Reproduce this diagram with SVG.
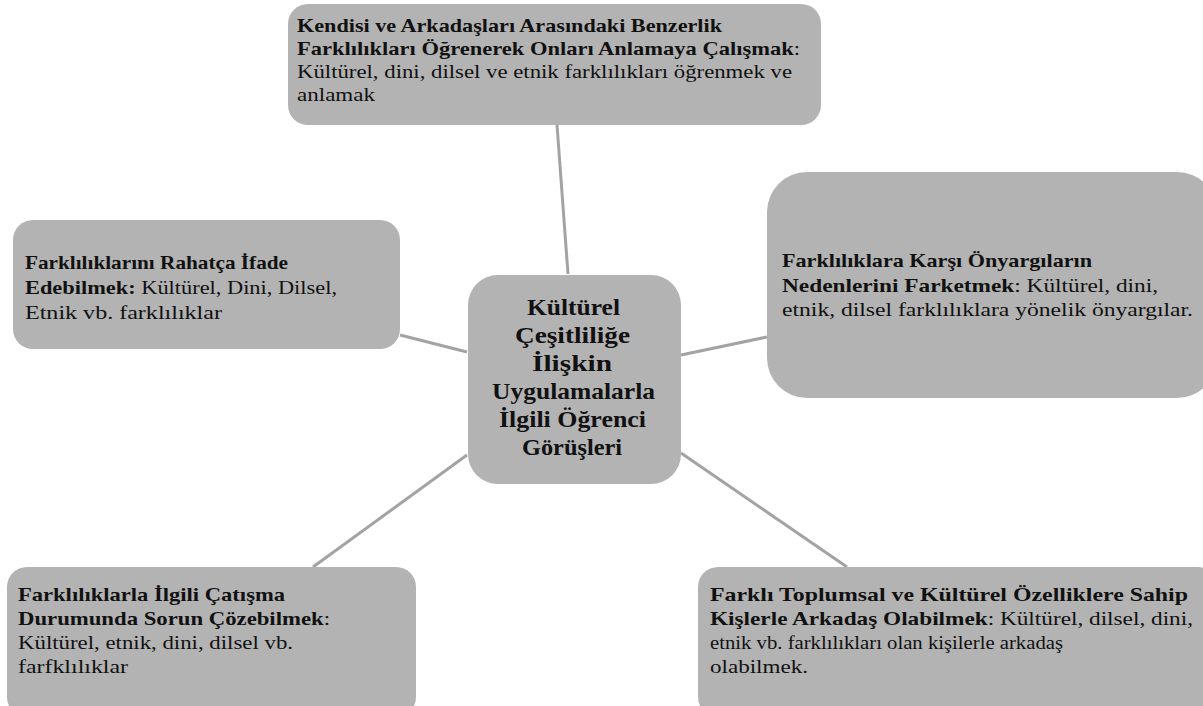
<svg xmlns="http://www.w3.org/2000/svg" width="1203" height="706" viewBox="0 0 1203 706">
<style>
.box{fill:#b3b3b3;}
.t{font-family:"Liberation Serif","Times New Roman",serif;font-size:19.5px;fill:#111;}
.b{font-weight:bold;}
.c{font-family:"Liberation Serif","Times New Roman",serif;font-size:22.5px;font-weight:bold;fill:#111;}
.ln{stroke:#a3a3a3;stroke-width:3;fill:none;}
</style>
<rect width="1203" height="706" fill="#ffffff"/>
<g id="connectors">
<line class="ln" x1="557" y1="125" x2="568" y2="274"/>
<line class="ln" x1="400" y1="335" x2="467" y2="352"/>
<line class="ln" x1="681" y1="355" x2="767" y2="337"/>
<line class="ln" x1="467" y1="455" x2="313" y2="567"/>
<line class="ln" x1="681" y1="453" x2="847" y2="567"/>
</g>
<g id="center">
<rect class="box" x="468" y="275" width="213" height="209" rx="30"/>
<text class="c" x="527" y="315" textLength="93" lengthAdjust="spacingAndGlyphs">Kültürel</text>
<text class="c" x="515" y="343" textLength="115" lengthAdjust="spacingAndGlyphs">Çeşitliliğe</text>
<text class="c" x="532" y="371" textLength="80" lengthAdjust="spacingAndGlyphs">İlişkin</text>
<text class="c" x="492" y="399" textLength="163" lengthAdjust="spacingAndGlyphs">Uygulamalarla</text>
<text class="c" x="499" y="427" textLength="147" lengthAdjust="spacingAndGlyphs">İlgili Öğrenci</text>
<text class="c" x="522" y="455" textLength="100" lengthAdjust="spacingAndGlyphs">Görüşleri</text>
</g>
<g id="top">
<rect class="box" x="288" y="4" width="533" height="121" rx="20"/>
<text class="t b" x="297" y="32" textLength="425" lengthAdjust="spacingAndGlyphs">Kendisi ve Arkadaşları Arasındaki Benzerlik</text>
<text class="t" x="297" y="55" textLength="503" lengthAdjust="spacingAndGlyphs"><tspan class="b">Farklılıkları Öğrenerek Onları Anlamaya Çalışmak</tspan>:</text>
<text class="t" x="297" y="78" textLength="495" lengthAdjust="spacingAndGlyphs">Kültürel, dini, dilsel ve etnik farklılıkları öğrenmek ve</text>
<text class="t" x="297" y="101" textLength="78" lengthAdjust="spacingAndGlyphs">anlamak</text>
</g>
<g id="right">
<rect class="box" x="767" y="172" width="450" height="226" rx="40"/>
<text class="t b" x="782" y="267" textLength="310" lengthAdjust="spacingAndGlyphs">Farklılıklara Karşı Önyargıların</text>
<text class="t" x="782" y="292" textLength="376" lengthAdjust="spacingAndGlyphs"><tspan class="b">Nedenlerini Farketmek</tspan>: Kültürel, dini,</text>
<text class="t" x="782" y="316" textLength="411" lengthAdjust="spacingAndGlyphs">etnik, dilsel farklılıklara yönelik önyargılar.</text>
</g>
<g id="left">
<rect class="box" x="13" y="220" width="387" height="129" rx="20"/>
<text class="t b" x="25" y="269" textLength="263" lengthAdjust="spacingAndGlyphs">Farklılıklarını Rahatça İfade</text>
<text class="t" x="25" y="294" textLength="312" lengthAdjust="spacingAndGlyphs"><tspan class="b">Edebilmek:</tspan> Kültürel, Dini, Dilsel,</text>
<text class="t" x="25" y="319" textLength="197" lengthAdjust="spacingAndGlyphs">Etnik vb. farklılıklar</text>
</g>
<g id="bottom-left">
<rect class="box" x="7" y="567" width="409" height="150" rx="20"/>
<text class="t b" x="18" y="601" textLength="267" lengthAdjust="spacingAndGlyphs">Farklılıklarla İlgili Çatışma</text>
<text class="t" x="18" y="625" textLength="312" lengthAdjust="spacingAndGlyphs"><tspan class="b">Durumunda Sorun Çözebilmek</tspan>:</text>
<text class="t" x="18" y="649" textLength="275" lengthAdjust="spacingAndGlyphs">Kültürel, etnik, dini, dilsel vb.</text>
<text class="t" x="18" y="673" textLength="110" lengthAdjust="spacingAndGlyphs">farfklılıklar</text>
</g>
<g id="bottom-right">
<rect class="box" x="698" y="567" width="520" height="150" rx="20"/>
<text class="t b" x="710" y="601" textLength="478" lengthAdjust="spacingAndGlyphs">Farklı Toplumsal ve Kültürel Özelliklere Sahip</text>
<text class="t" x="710" y="625" textLength="483" lengthAdjust="spacingAndGlyphs"><tspan class="b">Kişlerle Arkadaş Olabilmek</tspan>: Kültürel, dilsel, dini,</text>
<text class="t" x="710" y="649" textLength="353" lengthAdjust="spacingAndGlyphs">etnik vb. farklılıkları olan kişilerle arkadaş</text>
<text class="t" x="710" y="673" textLength="98" lengthAdjust="spacingAndGlyphs">olabilmek.</text>
</g>
</svg>
